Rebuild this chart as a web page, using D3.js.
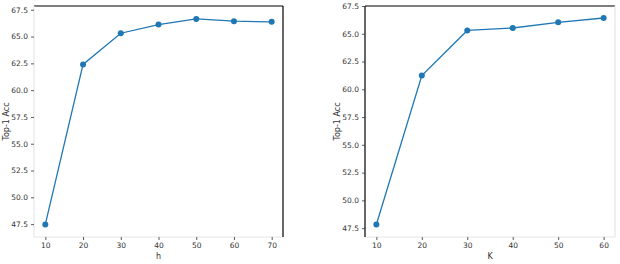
<!DOCTYPE html>
<html>
<head>
<meta charset="utf-8">
<script src="https://cdn.jsdelivr.net/npm/d3@7"></script>
<style>
  body { margin: 0; background: #fff; }
  svg text { font-family: "DejaVu Sans", sans-serif; }
</style>
</head>
<body>
<svg id="chart" width="620" height="264"></svg>
<script>
// left panel: varying h
const hVals = [10, 20, 30, 40, 50, 60, 70];
const hAcc = [47.47, 62.4, 65.31, 66.12, 66.64, 66.43, 66.37];
// right panel: varying K
const kVals = [10, 20, 30, 40, 50, 60];
const kAcc = [47.83, 61.24, 65.3, 65.52, 66.03, 66.42];
const yTicks = [47.5, 50.0, 52.5, 55.0, 57.5, 60.0, 62.5, 65.0, 67.5];

const svg = d3.select("#chart");
const blue = "#1f77b4";

function panel(opts) {
    const x = d3.scaleLinear().domain(opts.xDomain).range([opts.left, opts.right]);
    const y = d3.scaleLinear().domain(opts.yDomain).range([opts.bottom, opts.top]);
    const g = svg.append("g");

    // spines (black ones and the faded ones like in the scan)
    const sp = [
        { x1: opts.left, y1: opts.top, x2: opts.right, y2: opts.top, c: "#000" },
        { x1: opts.left, y1: opts.bottom, x2: opts.right, y2: opts.bottom, c: "#e6e6e6" },
        { x1: opts.left, y1: opts.top, x2: opts.left, y2: opts.bottom, c: opts.leftColor },
        { x1: opts.right, y1: opts.top, x2: opts.right, y2: opts.bottom, c: opts.rightColor }
    ];
    g.selectAll("line.spine").data(sp).enter().append("line")
        .attr("class", "spine")
        .attr("x1", d => d.x1).attr("y1", d => d.y1)
        .attr("x2", d => d.x2).attr("y2", d => d.y2)
        .attr("stroke", d => d.c)
        .attr("stroke-width", 1.2);

    const xAxis = g.append("g")
        .attr("transform", `translate(0,${opts.bottom})`)
        .call(d3.axisBottom(x).tickValues(opts.xVals).tickSize(3).tickPadding(3).tickFormat(d3.format("d")));
    const yAxis = g.append("g")
        .attr("transform", `translate(${opts.left},0)`)
        .call(d3.axisLeft(y).tickValues(yTicks).tickSize(3).tickPadding(3).tickFormat(d3.format(".1f")));
    [xAxis, yAxis].forEach(a => {
        a.select(".domain").remove();
        a.selectAll(".tick line").attr("stroke", "#333").attr("stroke-width", 0.8);
        a.selectAll(".tick text").attr("fill", "#333").style("font-size", "7.5px");
    });

    const line = d3.line().x((d, i) => x(opts.xVals[i])).y(d => y(d));
    g.append("path")
        .datum(opts.acc)
        .attr("d", line)
        .attr("fill", "none")
        .attr("stroke", blue)
        .attr("stroke-width", 1.3);
    g.selectAll("circle").data(opts.acc).enter().append("circle")
        .attr("cx", (d, i) => x(opts.xVals[i]))
        .attr("cy", d => y(d))
        .attr("r", 3)
        .attr("fill", blue);

    g.append("text")
        .attr("x", (opts.left + opts.right) / 2)
        .attr("y", 259)
        .attr("text-anchor", "middle")
        .attr("fill", "#333")
        .style("font-size", "8px")
        .text(opts.xLabel);
    g.append("text")
        .attr("transform", `translate(${opts.yLabelX},${(opts.top + opts.bottom) / 2}) rotate(-90)`)
        .attr("text-anchor", "middle")
        .attr("fill", "#333")
        .style("font-size", "8px")
        .text("Top-1 Acc");
}

panel({
    xVals: hVals, acc: hAcc, xLabel: "h",
    xDomain: [7, 73], yDomain: [46.3, 67.85],
    left: 34, right: 283, top: 6, bottom: 237,
    leftColor: "#e6e6e6", rightColor: "#000", yLabelX: 9
});
panel({
    xVals: kVals, acc: kAcc, xLabel: "K",
    xDomain: [7.5, 62.5], yDomain: [46.7, 67.5],
    left: 365, right: 615, top: 6, bottom: 237,
    leftColor: "#000", rightColor: "#e6e6e6", yLabelX: 340
});
</script>
</body>
</html>
